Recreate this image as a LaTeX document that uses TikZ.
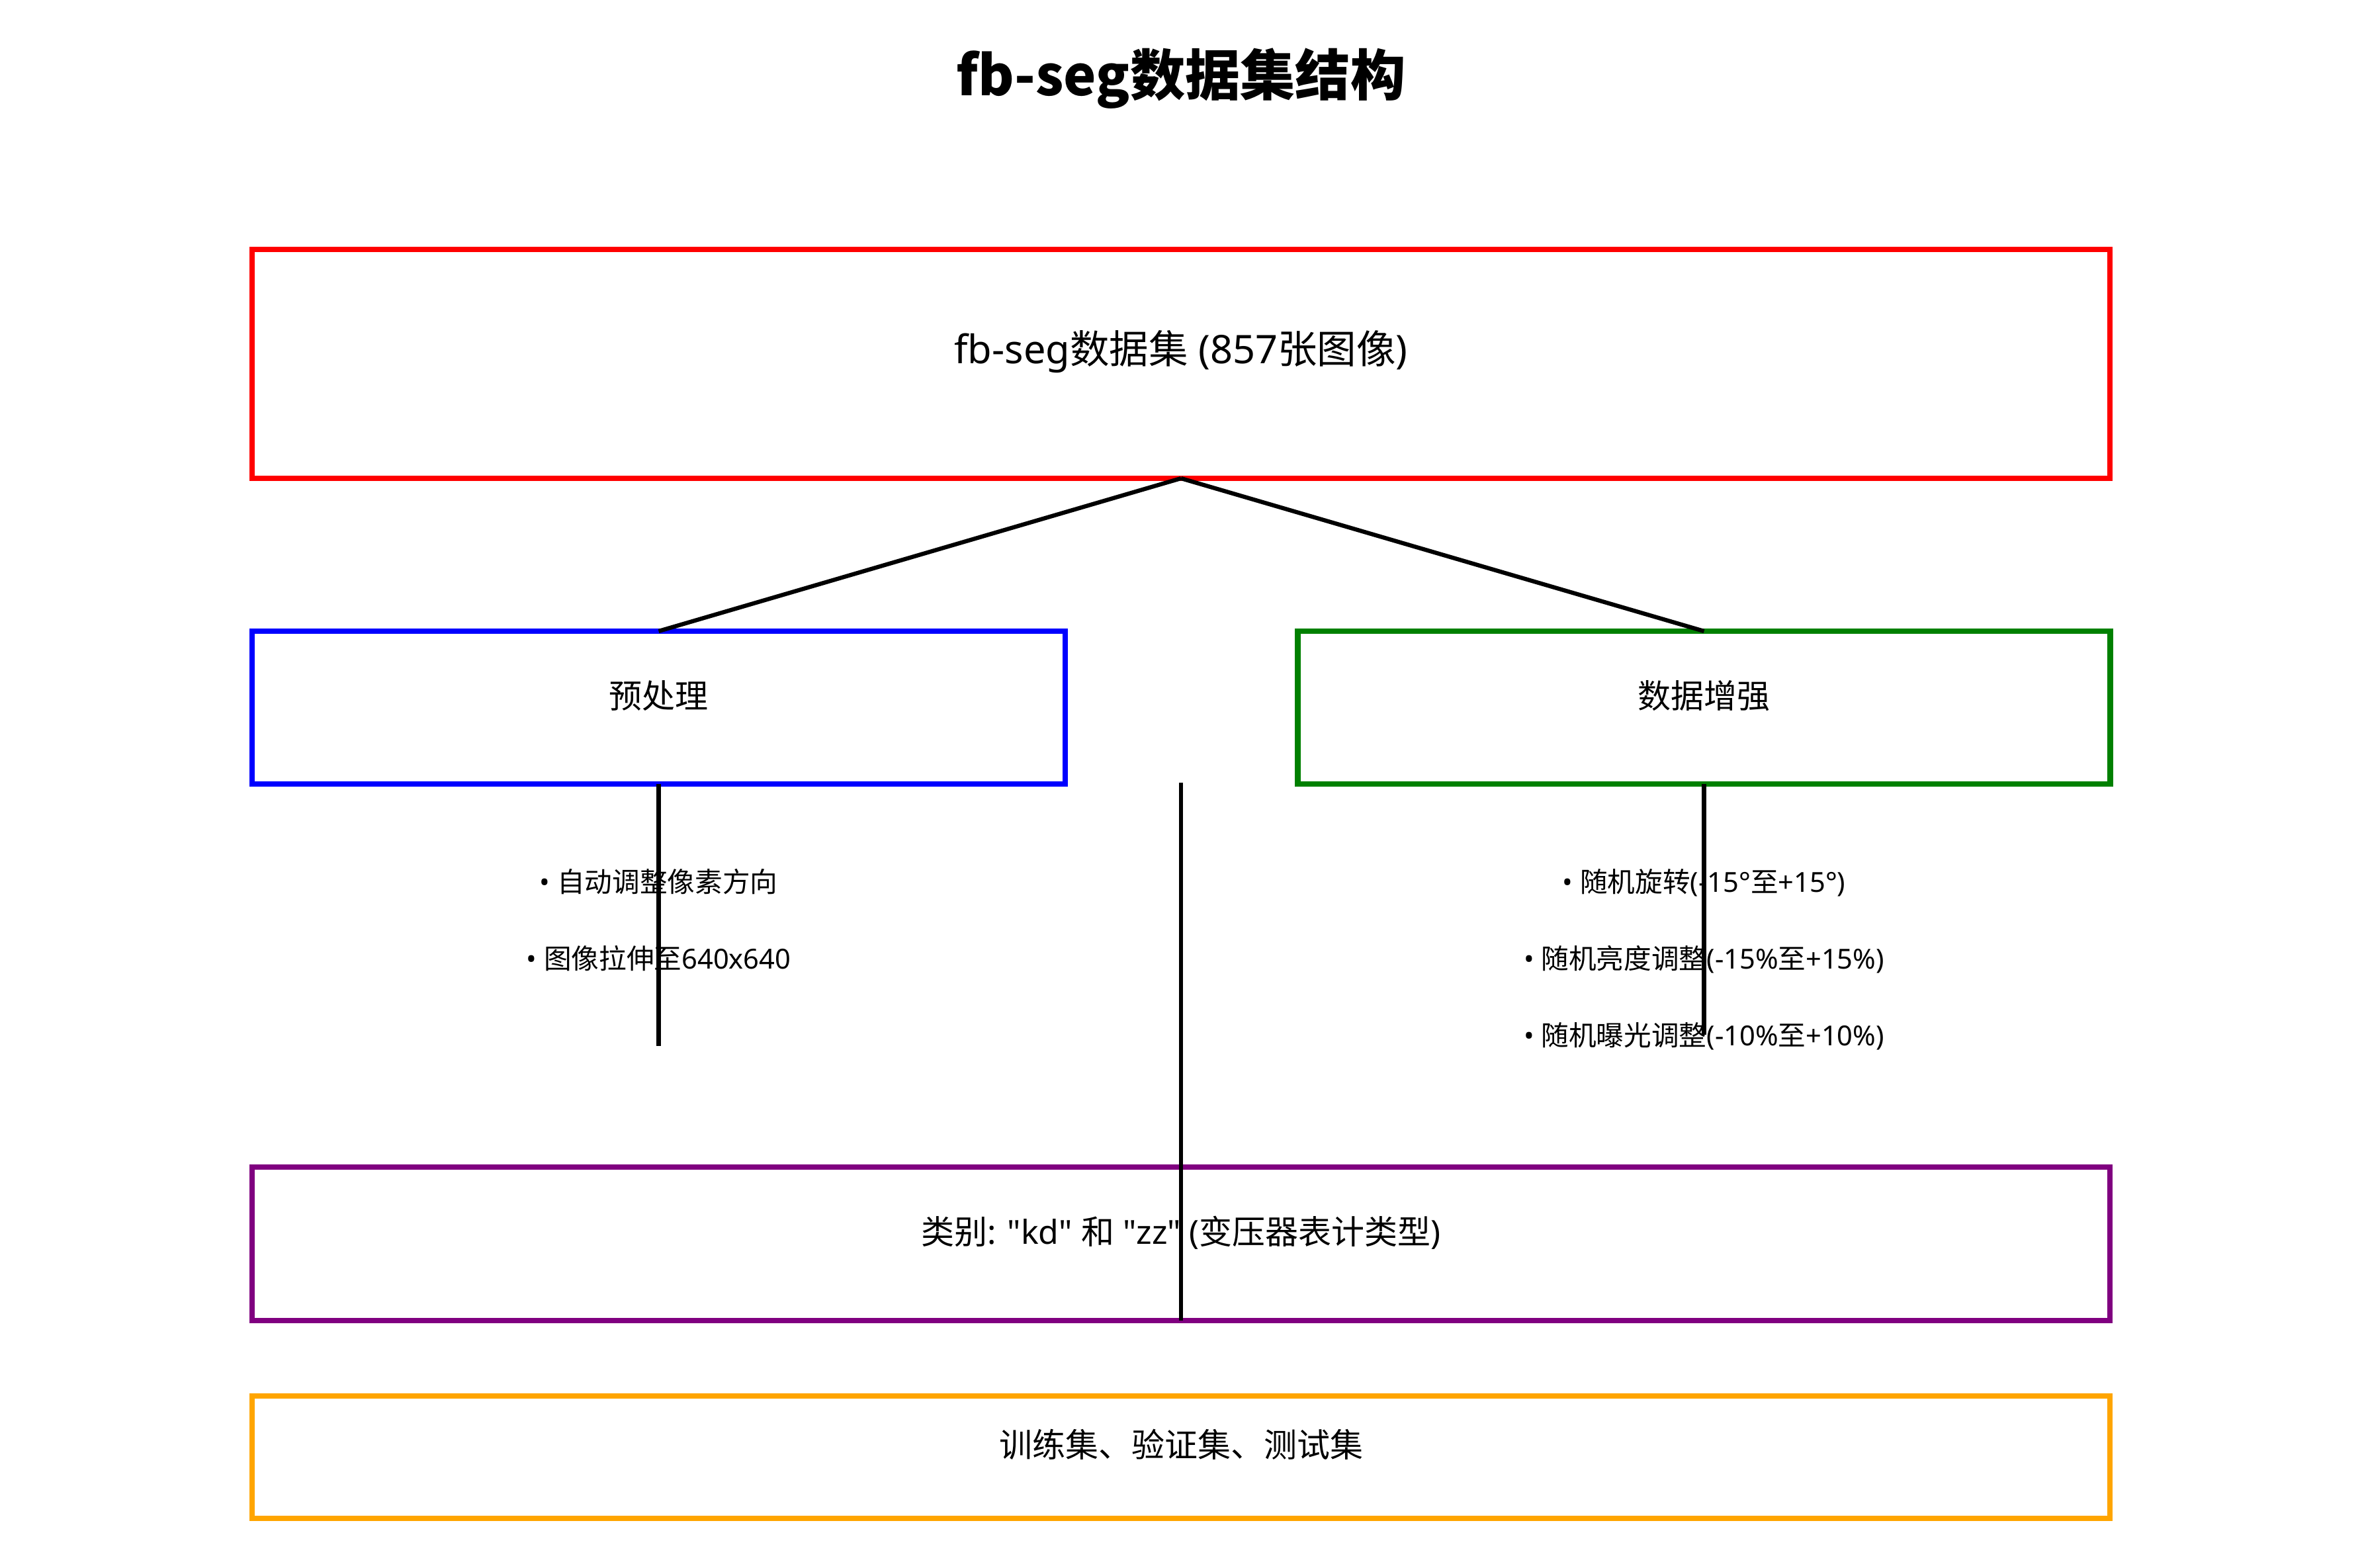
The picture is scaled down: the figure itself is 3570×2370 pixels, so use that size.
\documentclass[tikz,border=0pt]{standalone}
\usepackage{fontspec}
\setmainfont{Noto Sans CJK SC}[Ligatures=TeXOff]
\newfontfamily\lat{Noto Sans}[Ligatures=TeXOff]
\newcommand\ltn[1]{{\lat #1}}
\definecolor{svggreen}{RGB}{0,128,0}
\definecolor{svgpurple}{RGB}{128,0,128}
\definecolor{svgorange}{RGB}{255,165,0}
\begin{document}
\begin{tikzpicture}[x=0.2pt,y=-0.2pt,
  box/.style={draw=#1, line width=1.66pt, outer sep=0pt, inner sep=0pt},
  conn/.style={draw=black, line width=1.26pt},
  ttl/.style={anchor=base, inner sep=0pt, font=\fontsize{16.66pt}{20pt}\selectfont\bfseries},
  biglbl/.style={anchor=base, inner sep=0pt, font=\fontsize{11.9pt}{14pt}\selectfont},
  lbl/.style={anchor=base, inner sep=0pt, font=\fontsize{10pt}{12pt}\selectfont},
  bul/.style={anchor=base, inner sep=0pt, font=\fontsize{8.33pt}{10pt}\selectfont}]
\useasboundingbox (0,0) rectangle (3570,2370);
\fill[white] (0,0) rectangle (3570,2370);

% title
\node[ttl] (title) at (1785,145) {fb-seg数据集结构};

% boxes
\node[box=red, minimum width=561.6pt, minimum height=69.2pt] (data) at (1785,550) {};
\node[box=blue, minimum width=245.8pt, minimum height=46.2pt] (pre) at (995.5,1069.5) {};
\node[box=svggreen, minimum width=245.6pt, minimum height=46.2pt] (aug) at (2575.5,1069.5) {};
\node[box=svgpurple, minimum width=561.6pt, minimum height=46.4pt] (cls) at (1785,1880) {};
\node[box=svgorange, minimum width=561.6pt, minimum height=37pt] (split) at (1785,2202.5) {};

% labels
\node[biglbl] (datalbl) at (1785,550) {\ltn{fb-seg}数据集\ltn{ (857}张图像\ltn{)}};
\node[lbl] (prelbl) at (995.5,1070) {预处理};
\node[lbl] (auglbl) at (2575.5,1070) {数据增强};
\node[lbl] (clslbl) at (1785,1880) {类别\ltn{: "kd" }和\ltn{ "zz" (}变压器表计类型\ltn{)}};
\node[lbl] (splitlbl) at (1785,2202) {训练集、验证集、测试集};

% bullet items
\node[bul] (p1) at (995.5,1348) {\ltn{• }自动调整像素方向};
\node[bul] (p2) at (995.5,1464) {\ltn{• }图像拉伸至\ltn{640x640}};
\node[bul] (a1) at (2575.5,1348) {\ltn{• }随机旋转\ltn{(-15°}至\ltn{+15°)}};
\node[bul] (a2) at (2575.5,1464) {\ltn{• }随机亮度调整\ltn{(-15\%}至\ltn{+15\%)}};
\node[bul] (a3) at (2575.5,1580) {\ltn{• }随机曝光调整\ltn{(-10\%}至\ltn{+10\%)}};

% connectors
\coordinate (preend) at (995.5,1581);
\coordinate (augend) at (2575.5,1564);
\coordinate (midtop) at (1785,1183);
\draw[conn] (data.south) -- (pre.north);
\draw[conn] (data.south) -- (aug.north);
\draw[conn] (pre.south) -- (preend);
\draw[conn] (aug.south) -- (augend);
\draw[conn] (midtop) -- (cls.south);
\end{tikzpicture}
\end{document}
